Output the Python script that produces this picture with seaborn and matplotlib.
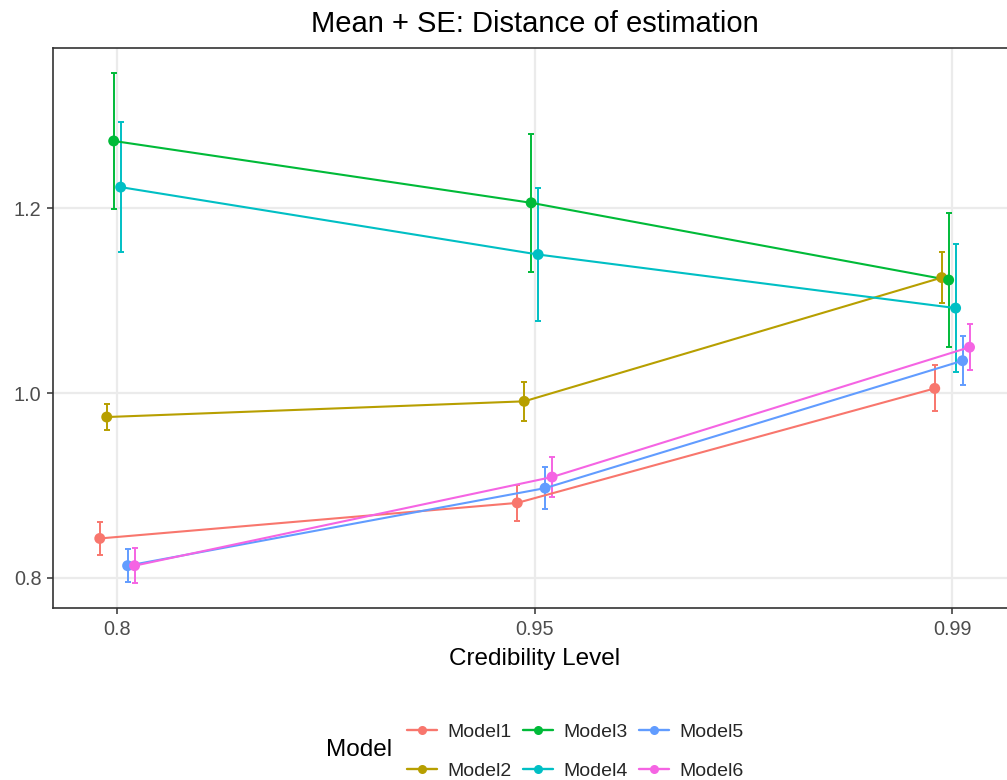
import numpy as np
import pandas as pd
import matplotlib
matplotlib.use("Agg")
import matplotlib.pyplot as plt
from matplotlib.lines import Line2D
import seaborn as sns

# ---- data ----
levels = ["0.8", "0.95", "0.99"]
models = ["Model1", "Model2", "Model3", "Model4", "Model5", "Model6"]
model1_mean = [0.8425, 0.881, 1.005]
model1_se = [0.0177, 0.0195, 0.025]
model2_mean = [0.974, 0.991, 1.125]
model2_se = [0.0145, 0.021, 0.028]
model3_mean = [1.273, 1.206, 1.1224]
model3_se = [0.074, 0.075, 0.073]
model4_mean = [1.223, 1.150, 1.092]
model4_se = [0.070, 0.072, 0.0695]
model5_mean = [0.813, 0.897, 1.035]
model5_se = [0.018, 0.0225, 0.0265]
model6_mean = [0.813, 0.909, 1.0496]
model6_se = [0.019, 0.022, 0.025]
colors = ["#F8766D", "#B79F00", "#00BA38", "#00BFC4", "#619CFF", "#F564E3"]

means = [model1_mean, model2_mean, model3_mean, model4_mean, model5_mean, model6_mean]
ses = [model1_se, model2_se, model3_se, model4_se, model5_se, model6_se]

dodge_width = 0.1
rows = []
for i, (m, mu, se) in enumerate(zip(models, means, ses)):
    off = (i - (len(models) - 1) / 2) * dodge_width / len(models)
    for j, lev in enumerate(levels):
        rows.append({"Model": m, "level": lev, "x": j + off, "mean": mu[j], "se": se[j]})
df = pd.DataFrame(rows)

sns.set_theme(style="white")
plt.rcParams["font.family"] = ["Liberation Sans", "DejaVu Sans"]

fig = plt.figure(figsize=(10.07, 7.8), dpi=100)
W, H = 1007, 780
left, right, top, bottom = 53.3, 1016, 47.7, 607.7
ax = fig.add_axes([left / W, 1 - bottom / H, (right - left) / W, (bottom - top) / H])
ax.set_facecolor("white")

pal = dict(zip(models, colors))

# error bars
for m in models:
    d = df[df["Model"] == m]
    ax.errorbar(d["x"], d["mean"], yerr=d["se"], fmt="none", ecolor=pal[m],
                elinewidth=1.4, capsize=2.0, capthick=1.4, zorder=3)

sns.lineplot(data=df, x="x", y="mean", hue="Model", palette=pal, linewidth=1.5,
             legend=False, ax=ax, zorder=4, sort=True, estimator=None)
sns.scatterplot(data=df, x="x", y="mean", hue="Model", palette=pal, s=62,
                linewidth=0, legend=False, ax=ax, zorder=5)

ax.set_xlim(-0.153, 2.153)
ax.set_ylim(0.7675, 1.374)
ax.set_xticks(range(len(levels)))
ax.set_xticklabels(levels)
ax.set_yticks([0.8, 1.0, 1.2])
ax.set_yticklabels(["0.8", "1.0", "1.2"])

ax.grid(True, color="#EBEBEB", linewidth=1.6, zorder=0)
ax.set_axisbelow(True)
for s in ax.spines.values():
    s.set_color("#333333")
    s.set_linewidth(1.2)

ax.tick_params(axis="both", which="major", length=4.5, width=1.1, color="#333333",
               labelsize=14.3, labelcolor="#4D4D4D", pad=4, bottom=True, left=True)

ax.set_xlabel("Credibility Level", fontsize=17.5, color="black", labelpad=7)
ax.set_ylabel("")
ax.set_title("Mean + SE: Distance of estimation", fontsize=21, color="black", pad=11)

handles = [Line2D([0], [0], color=c, lw=1.7, marker="o", markersize=6.5, markeredgewidth=0)
           for c in colors]
fig.legend(handles, models, loc="center left", bbox_to_anchor=(407 / W, 1 - 751.5 / H),
           ncol=3, frameon=False, fontsize=14, handlelength=1.55, handletextpad=0.55,
           columnspacing=0.55, labelspacing=1.1, borderpad=0, borderaxespad=0)
fig.text(326 / W, 1 - 750 / H, "Model", fontsize=17.5, ha="left", va="center", color="black")

fig.savefig("out.png", dpi=100, facecolor="white")
